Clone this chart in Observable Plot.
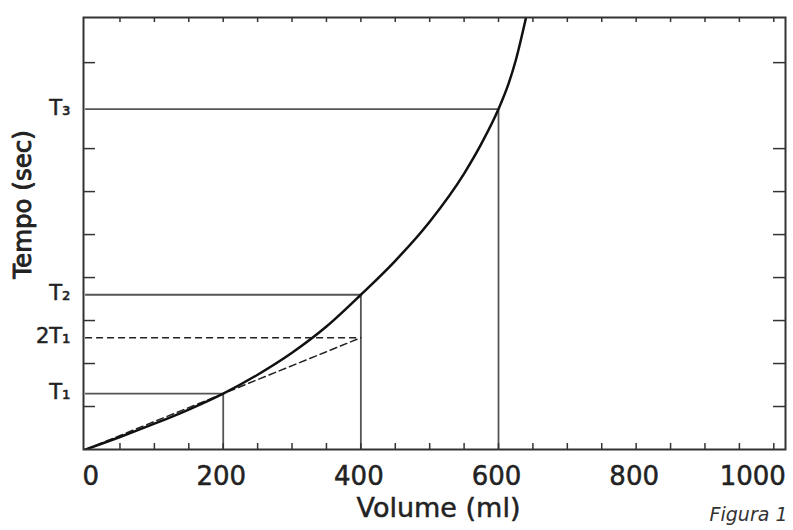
<!DOCTYPE html>
<html>
<head>
<meta charset="utf-8">
<script src="https://cdn.jsdelivr.net/npm/d3@7"></script>
<script src="https://cdn.jsdelivr.net/npm/@observablehq/plot@0.6"></script>
<style>
  html, body { margin: 0; padding: 0; background: #fff; }
</style>
</head>
<body>
<div id="chart"></div>
<script>
// Curve: volume (ml) vs time (T levels)
const volume = [0, 50, 100, 150, 200, 250, 300, 350, 400, 450, 500, 550, 575, 600, 615, 625, 640];
const tempo  = [0, 0.29, 0.6, 0.93, 1.3, 1.74, 2.25, 2.86, 3.6, 4.39, 5.3, 6.42, 7.11, 7.92, 8.53, 9.05, 10.05];

// Reference levels
const levelNames  = ["T₁", "2T₁", "T₂", "T₃"];
const levelTimes  = [1.3, 2.6, 3.6, 7.92];
const levelVolume = [200, 400, 400, 600];
const levelDashed = [false, true, false, false];

// Diagonal dashed line (proportional filtration)
const diagVolume = [0, 400];
const diagTempo  = [0, 2.6];

// Axis ticks
const xTickLabels = [0, 200, 400, 600, 800, 1000];
const xMinorTicks = d3.range(50, 1001, 50);
const yMinorTicks = [1, 2, 3, 4, 5, 6, 7, 9];

const curve = volume.map((v, i) => ({v, t: tempo[i]}));
const levels = levelNames.map((name, i) => ({name, t: levelTimes[i], v: levelVolume[i], dashed: levelDashed[i]}));
const diag = diagVolume.map((v, i) => ({v, t: diagTempo[i]}));
const solidLevels = levels.filter(d => !d.dashed);
const dashedLevels = levels.filter(d => d.dashed);
const verticals = [levels[0], levels[2], levels[3]];

const W = 793, H = 530, mL = 83, mR = 8, mT = 17, mB = 81;
const fw = W - mL - mR, fh = H - mT - mB;
const ink = "#222";
const txt = {fill: ink, stroke: ink, strokeWidth: 0.5};

const chart = Plot.plot({
  width: W, height: H,
  marginLeft: mL, marginRight: mR, marginTop: mT, marginBottom: mB,
  x: {domain: [-3, 1017], axis: null},
  y: {domain: [0, 10.05], axis: null},
  style: {fontFamily: "DejaVu Sans", background: "#fff", color: ink},
  marks: [
    // guide lines
    Plot.ruleY(solidLevels, {y: "t", x1: 0, x2: "v", stroke: "#555", strokeWidth: 1.8}),
    Plot.ruleY(dashedLevels, {y: "t", x1: 0, x2: "v", stroke: "#222", strokeWidth: 1.5, strokeDasharray: "7,4"}),
    Plot.ruleX(verticals, {x: "v", y1: 0, y2: "t", stroke: "#555", strokeWidth: 1.8}),
    Plot.line(diag, {x: "v", y: "t", stroke: "#222", strokeWidth: 1.5, strokeDasharray: "7,4"}),
    // curve
    Plot.line(curve, {x: "v", y: "t", stroke: "#111", strokeWidth: 2.5, curve: "monotone-x", clip: true}),
    // inward ticks
    Plot.tickX(xMinorTicks, {x: d => d, insetTop: fh - 6, stroke: "#333", strokeWidth: 1.5}),
    Plot.tickX(xMinorTicks, {x: d => d, insetBottom: fh - 5, stroke: "#333", strokeWidth: 1.5}),
    Plot.tickY(yMinorTicks, {y: d => d, insetRight: fw - 12, stroke: "#333", strokeWidth: 1.5}),
    Plot.tickY(yMinorTicks, {y: d => d, insetLeft: fw - 12, stroke: "#333", strokeWidth: 1.5}),
    Plot.frame({stroke: "#333", strokeWidth: 2}),
    // x tick labels
    Plot.text(xTickLabels.slice(0, 1), {x: d => d, y: 0, text: d => String(d), textAnchor: "start", dx: -3, dy: 27, fontSize: 26, ...txt}),
    Plot.text(xTickLabels.slice(1, -1), {x: d => d, y: 0, text: d => String(d), dx: -2, dy: 27, fontSize: 26, ...txt}),
    Plot.text(xTickLabels.slice(-1), {x: d => d, y: 0, text: d => String(d), textAnchor: "end", dx: 12, dy: 27, fontSize: 26, ...txt}),
    // y level labels
    Plot.text(levels, {y: "t", text: "name", frameAnchor: "left", textAnchor: "end", dx: -13, dy: -1, fontSize: 21, ...txt}),
    // axis titles
    Plot.text(["Volume (ml)"], {frameAnchor: "bottom", text: d => d, dx: 4, dy: 67, fontSize: 27, ...txt}),
    Plot.text(["Tempo (sec)"], {frameAnchor: "left", text: d => d, textAnchor: "middle", rotate: -90, dx: -60, dy: -29, fontSize: 24.5, fill: ink, stroke: ink, strokeWidth: 0.9}),
    Plot.text(["Figura 1"], {frameAnchor: "bottom-right", text: d => d, textAnchor: "end", dx: 2, dy: 71, fontSize: 19, fontStyle: "italic", fill: "#333"})
  ]
});
document.getElementById("chart").appendChild(chart);
</script>
</body>
</html>
